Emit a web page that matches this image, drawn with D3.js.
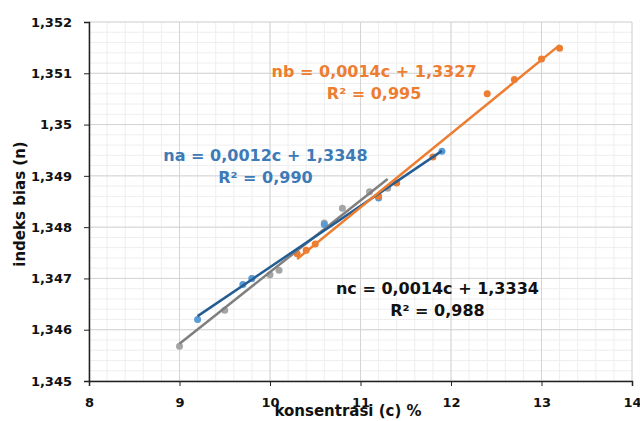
<!DOCTYPE html>
<html>
<head>
<script src="https://cdn.jsdelivr.net/npm/d3@7"></script>
<style>
  * { margin: 0; padding: 0; }
  body { background: #fff; width: 640px; height: 421px; overflow: hidden; }
  text { font-family: "DejaVu Sans", Verdana, sans-serif; }
</style>
</head>
<body>
<script>
// data
var naC = [9.2, 9.7, 9.8, 10.6, 11.2, 11.9];
var naN = [1.3462, 1.34688, 1.34700, 1.34805, 1.34857, 1.34948];

var nbC = [10.3, 10.4, 10.5, 11.2, 11.4, 11.8, 12.4, 12.7, 13.0, 13.2];
var nbN = [1.34748, 1.34755, 1.34767, 1.34860, 1.34886, 1.34937, 1.35060, 1.35088, 1.35128, 1.35149];

var ncC = [9.0, 9.5, 9.8, 10.0, 10.1, 10.6, 10.8, 11.1, 11.3];
var ncN = [1.34568, 1.34638, 1.34700, 1.34707, 1.34716, 1.34808, 1.34837, 1.34869, 1.34876];

var xTicks = [8, 9, 10, 11, 12, 13, 14];
var yTicks = [1.345, 1.346, 1.347, 1.348, 1.349, 1.350, 1.351, 1.352];

var labels = [
  { eq: "nb = 0,0014c + 1,3327", r2: "R\u00b2 = 0,995", c: 11.15, n: 1.35093, color: "#ed7d31" },
  { eq: "na = 0,0012c + 1,3348", r2: "R\u00b2 = 0,990", c: 9.95, n: 1.34928, color: "#3d7ab8" },
  { eq: "nc = 0,0014c + 1,3334", r2: "R\u00b2 = 0,988", c: 11.85, n: 1.34669, color: "#111" }
];

var w = 640, h = 421;
var mLeft = 89, mRight = 632, mTop = 22, mBottom = 381;

var x = d3.scaleLinear().domain([8, 14]).range([mLeft, mRight]);
var y = d3.scaleLinear().domain([1.345, 1.352]).range([mBottom, mTop]);

var svg = d3.select("body").append("svg")
  .attr("width", w)
  .attr("height", h);

// minor grid
var minorX = d3.range(8, 14.001, 0.2);
var minorY = d3.range(1.345, 1.35201, 0.0002);
svg.append("g").selectAll("line").data(minorX).enter().append("line")
  .attr("x1", function(d) { return x(d); }).attr("x2", function(d) { return x(d); })
  .attr("y1", mTop).attr("y2", mBottom)
  .attr("stroke", "#eeeeee").attr("stroke-width", 1);
svg.append("g").selectAll("line").data(minorY).enter().append("line")
  .attr("x1", mLeft).attr("x2", mRight)
  .attr("y1", function(d) { return y(d); }).attr("y2", function(d) { return y(d); })
  .attr("stroke", "#eeeeee").attr("stroke-width", 1);

// major grid
svg.append("g").selectAll("line").data(xTicks).enter().append("line")
  .attr("x1", function(d) { return x(d); }).attr("x2", function(d) { return x(d); })
  .attr("y1", mTop).attr("y2", mBottom)
  .attr("stroke", "#d4d4d4").attr("stroke-width", 1);
svg.append("g").selectAll("line").data(yTicks).enter().append("line")
  .attr("x1", mLeft).attr("x2", mRight)
  .attr("y1", function(d) { return y(d); }).attr("y2", function(d) { return y(d); })
  .attr("stroke", "#d4d4d4").attr("stroke-width", 1);

// axes
var fmt = function(d) { return d3.format(".3~f")(d).replace(".", ","); };
var yAxis = svg.append("g")
  .attr("transform", "translate(" + mLeft + ",0)")
  .call(d3.axisLeft(y).tickValues(yTicks).tickFormat(fmt).tickSize(5).tickPadding(12));
var xAxis = svg.append("g")
  .attr("transform", "translate(0," + mBottom + ")")
  .call(d3.axisBottom(x).tickValues(xTicks).tickFormat(d3.format("d")).tickSize(5).tickPadding(12));
[yAxis, xAxis].forEach(function(a) {
  a.select(".domain").attr("stroke", "#222").attr("stroke-width", 1.5);
  a.selectAll(".tick line").attr("stroke", "#222");
  a.selectAll("text").attr("font-size", 13).attr("font-weight", "bold").attr("fill", "#111");
});

// least squares trendline
function fit(cs, ns) {
  var mx = d3.mean(cs), my = d3.mean(ns);
  var sxy = d3.sum(cs, function(c, i) { return (c - mx) * (ns[i] - my); });
  var sxx = d3.sum(cs, function(c) { return (c - mx) * (c - mx); });
  var b = sxy / sxx;
  return function(c) { return my + b * (c - mx); };
}

var series = [
  { c: ncC, n: ncN, dot: "#a5a5a5", line: "#7f7f7f" },
  { c: naC, n: naN, dot: "#5b9bd5", line: "#245d92" },
  { c: nbC, n: nbN, dot: "#ed7d31", line: "#ed7d31" }
];

series.forEach(function(s) {
  svg.append("g").selectAll("circle").data(s.c).enter().append("circle")
    .attr("cx", function(d) { return x(d); })
    .attr("cy", function(d, i) { return y(s.n[i]); })
    .attr("r", 3.5)
    .attr("fill", s.dot);
});

series.forEach(function(s) {
  var f = fit(s.c, s.n);
  var ext = d3.extent(s.c);
  svg.append("line")
    .attr("x1", x(ext[0])).attr("y1", y(f(ext[0])))
    .attr("x2", x(ext[1])).attr("y2", y(f(ext[1])))
    .attr("stroke", s.line).attr("stroke-width", 2.5);
});

// equation labels
labels.forEach(function(l) {
  var t = svg.append("text")
    .attr("x", x(l.c)).attr("y", y(l.n))
    .attr("text-anchor", "middle")
    .attr("font-size", 16).attr("font-weight", "bold")
    .attr("fill", l.color);
  t.append("tspan").attr("x", x(l.c)).text(l.eq);
  t.append("tspan").attr("x", x(l.c)).attr("dy", 22).text(l.r2);
});

// axis titles
svg.append("text")
  .attr("x", 348).attr("y", 416)
  .attr("text-anchor", "middle")
  .attr("font-family", "'Open Sans', sans-serif")
  .attr("font-size", 15).attr("font-weight", "bold").attr("fill", "#111")
  .text("konsentrasi (c)  %");

svg.append("text")
  .attr("transform", "translate(25,204) rotate(-90)")
  .attr("text-anchor", "middle")
  .attr("font-family", "'Open Sans', sans-serif")
  .attr("font-size", 15).attr("font-weight", 600).attr("fill", "#111")
  .text("indeks bias (n)");
</script>
</body>
</html>
